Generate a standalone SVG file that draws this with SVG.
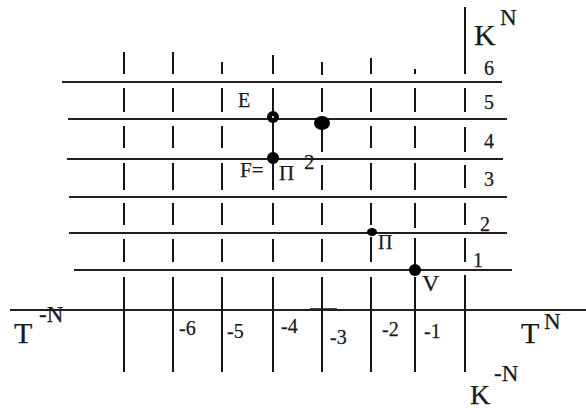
<svg xmlns="http://www.w3.org/2000/svg" width="586" height="414" viewBox="0 0 586 414">
<style>
.h{stroke:#2a1c1c;stroke-width:2;fill:none}
.v{stroke:#151515;stroke-width:2;fill:none}
.t{font-family:"Liberation Serif","Times New Roman",serif;fill:#1a1a1a;stroke:#1a1a1a;stroke-width:0.25}
.dot{fill:#000}
</style>
<rect width="586" height="414" fill="#fff"/>
<g id="connectors">
<g id="horizontal-lines">
<line class="h" x1="62" y1="82" x2="502" y2="82"/>
<line class="h" x1="68" y1="119" x2="507" y2="119"/>
<line class="h" x1="67" y1="159" x2="503" y2="159"/>
<line class="h" x1="69" y1="197" x2="507" y2="197"/>
<line class="h" x1="69" y1="233" x2="507" y2="233"/>
<line class="h" x1="74" y1="270" x2="512" y2="270"/>
<line class="h" x1="10" y1="310" x2="586" y2="310"/>
<line class="h" x1="310" y1="308.8" x2="337" y2="308.8" style="stroke-width:1.2"/>
</g>
<g id="vertical-lines">
<path class="v" d="M124 52V74M124 88V112M124 126V148M124 163V190M124 203V225M124 239V262M124 277V372"/>
<path class="v" d="M173 52V74M173 88V112M173 126V148M173 163V190M173 203V225M173 239V262M173 277V372"/>
<path class="v" d="M222 62V74M222 88V112M222 126V148M222 163V190M222 203V225M222 239V262M222 277V372"/>
<path class="v" d="M273 55V74M273 88V158M273 163V190M273 203V225M273 239V262M273 277V372"/>
<path class="v" d="M322 62V75M322 88V112M322 123V152M322 165V190M322 203V225M322 239V262M322 277V372"/>
<path class="v" d="M371 58V74M371 88V112M371 126V148M371 163V190M371 203V225M371 237V262M371 277V372"/>
<path class="v" d="M415 69V74M415 88V112M415 126V148M415 163V190M415 203V228M415 238V270M415 277V372"/>
<path class="v" d="M465 7V74M465 88V112M465 127V152M465 165V188M465 203V225M465 238V262M465 275V372"/>
</g>
</g>
<g id="node-E">
<circle class="dot" cx="273" cy="117" r="6"/>
<circle cx="273" cy="117" r="1" fill="#fff"/>
<text class="t" x="238" y="107" font-size="20">E</text>
</g>
<g id="node-P45">
<ellipse class="dot" cx="322" cy="123" rx="8" ry="7"/>
</g>
<g id="node-F">
<circle class="dot" cx="273" cy="158" r="6"/>
<text class="t" x="240" y="177" font-size="21">F=</text>
<text class="t" x="279" y="180" font-size="21">Π</text>
<text class="t" x="304" y="169" font-size="21">2</text>
</g>
<g id="node-Pi">
<ellipse class="dot" cx="372" cy="232" rx="5" ry="4"/>
<text class="t" x="378" y="249" font-size="20">Π</text>
</g>
<g id="node-V">
<circle class="dot" cx="415" cy="270" r="6"/>
<text class="t" x="422" y="291" font-size="24">V</text>
</g>
<g id="labels">
<text class="t" x="489" y="75" font-size="20" text-anchor="middle">6</text>
<text class="t" x="489" y="109" font-size="20" text-anchor="middle">5</text>
<text class="t" x="489" y="148" font-size="20" text-anchor="middle">4</text>
<text class="t" x="489" y="186" font-size="20" text-anchor="middle">3</text>
<text class="t" x="485" y="231" font-size="20" text-anchor="middle">2</text>
<text class="t" x="478" y="267" font-size="20" text-anchor="middle">1</text>
<text class="t" x="179" y="335" font-size="20">-6</text>
<text class="t" x="227" y="338" font-size="20">-5</text>
<text class="t" x="281" y="333" font-size="20">-4</text>
<text class="t" x="330" y="344" font-size="20">-3</text>
<text class="t" x="382" y="336" font-size="20">-2</text>
<text class="t" x="424" y="338" font-size="20">-1</text>
<text class="t" x="474" y="45" font-size="30">K</text>
<text class="t" x="500" y="25" font-size="23">N</text>
<text class="t" x="14" y="343" font-size="30">T</text>
<text class="t" x="39" y="322" font-size="23">-N</text>
<text class="t" x="521" y="343" font-size="30">T</text>
<text class="t" x="544" y="329" font-size="23">N</text>
<text class="t" x="470" y="404" font-size="28">K</text>
<text class="t" x="494" y="381" font-size="23">-N</text>
</g>
</svg>
